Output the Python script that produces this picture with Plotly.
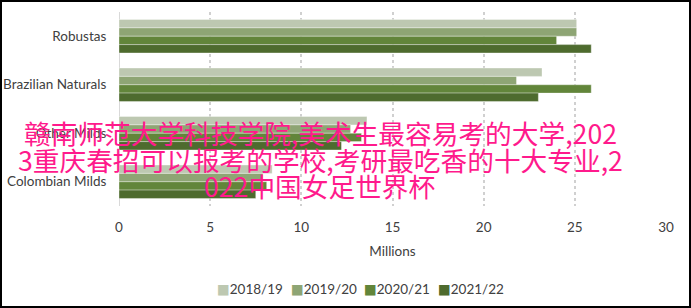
import plotly.graph_objects as go

categories = ["Robustas", "Brazilian Naturals", "Other Milds", "Colombian Milds"]
seasons = ["2018/19", "2019/20", "2020/21", "2021/22"]
v_2018 = [25.1, 23.2, 13.6, 8.4]
v_2019 = [25.1, 21.8, 12.7, 7.9]
v_2020 = [24.0, 25.9, 13.3, 8.1]
v_2021 = [25.9, 23.0, 12.2, 7.5]
values = [v_2018, v_2019, v_2020, v_2021]
colors = ["#bdc8b1", "#8ea574", "#62853a", "#4e6b2e"]
x_ticks = [0, 5, 10, 15, 20, 25, 30]
overlay_lines = [
    "赣南师范大学科技学院,美术生最容易考的大学,202",
    "3重庆春招可以报考的学校,考研最吃香的十大专业,2",
    "022中国女足世界杯",
]

W, H = 691, 308
ML, MR, MT, MB = 119, 25, 12, 102
PW, PH = W - ML - MR, H - MT - MB

fig = go.Figure()
for name, vals, col in zip(seasons, values, colors):
    fig.add_trace(go.Bar(
        y=categories, x=vals, name=name, orientation="h",
        marker=dict(color=col, line=dict(color="rgba(255,255,255,0.6)", width=0.6)),
    ))

def px_to_paper_y(py):
    return (H - MB - py) / PH

def px_to_paper_x(px):
    return (px - ML) / PW

annotations = []
# legend entries (compact, as in the reference)
for name, col, lx in zip(seasons, colors, [215, 289, 362, 436]):
    annotations.append(dict(
        text=f"<span style='color:{col}'>■</span>{name}",
        xref="paper", yref="paper", x=px_to_paper_x(lx), y=px_to_paper_y(289),
        xanchor="left", yanchor="middle", showarrow=False,
        font=dict(family="Lato, DejaVu Sans", size=13.5, color="#404040"),
    ))
for line, yc in zip(overlay_lines, [132, 159, 185]):
    annotations.append(dict(
        text=line, xref="paper", yref="paper",
        x=px_to_paper_x(320), y=px_to_paper_y(yc),
        xanchor="center", yanchor="middle", showarrow=False,
        font=dict(family="Noto Sans CJK SC", size=26.7, color="#ff1a8c"),
    ))

fig.update_layout(
    width=W, height=H,
    margin=dict(l=ML, r=MR, t=MT, b=MB, autoexpand=False),
    paper_bgcolor="white", plot_bgcolor="white",
    barmode="group", bargap=0.31, bargroupgap=0,
    font=dict(family="Lato, Open Sans, sans-serif", size=13.5, color="#404040"),
    showlegend=False,
    annotations=annotations,
    shapes=[dict(type="rect", xref="paper", yref="paper",
                 x0=px_to_paper_x(1), x1=px_to_paper_x(W - 1),
                 y0=px_to_paper_y(H - 1), y1=px_to_paper_y(1),
                 line=dict(color="black", width=2), layer="above")],
)
fig.update_xaxes(range=[0, 30], tickvals=x_ticks, showgrid=True, automargin=False,
                 gridcolor="#d0d0d0", griddash="dot", gridwidth=2,
                 zeroline=True, zerolinecolor="#d9d9d9", zerolinewidth=1,
                 ticks="outside", ticklen=9, tickcolor="rgba(0,0,0,0)",
                 title=dict(text="Millions", standoff=12, font=dict(size=13.5, color="#404040")))
fig.update_yaxes(autorange="reversed", showgrid=False, automargin=False,
                 ticks="outside", ticklen=9, tickcolor="rgba(0,0,0,0)")

fig.write_html("out.html")
